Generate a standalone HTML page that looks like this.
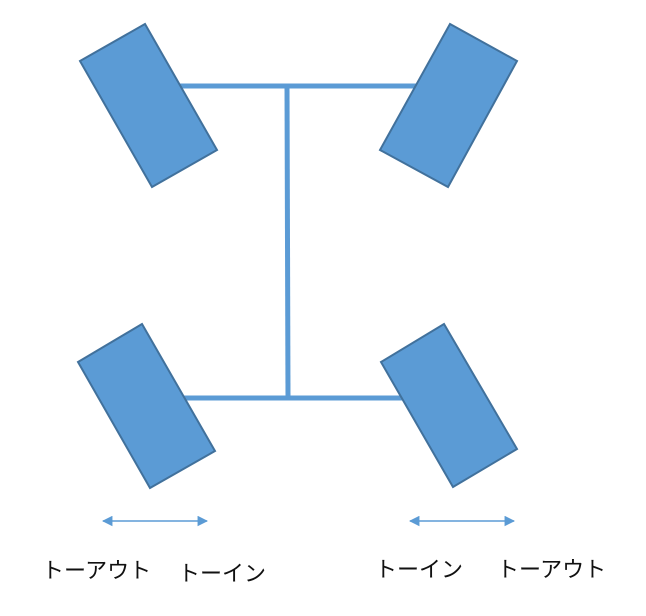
<!DOCTYPE html>
<html><head><meta charset="utf-8"><style>
html,body{margin:0;padding:0;background:#fff;}
svg{display:block}
text{font-family:"Liberation Sans","Noto Sans CJK JP",sans-serif;font-size:22px;fill:#111;}
</style></head><body>
<svg width="646" height="616" viewBox="0 0 646 616" xmlns="http://www.w3.org/2000/svg">
<defs>
<marker id="a" viewBox="0 0 10 10" refX="9" refY="5" markerWidth="7" markerHeight="7" orient="auto-start-reverse"><path d="M0,0L10,5L0,10z" fill="#5b9bd5"/></marker>
</defs>
<g stroke="#5b9bd5" stroke-width="5" fill="none">
<line x1="178" y1="86" x2="420" y2="86"/>
<line x1="287" y1="86" x2="288" y2="398"/>
<line x1="180" y1="398" x2="404" y2="398"/>
</g>
<g fill="#5b9bd5" stroke="#41719c" stroke-width="2">
<polygon points="80,61 145,24 217,150 152,187"/>
<polygon points="380,150 450,24 517,61 448,187"/>
<polygon points="78,362 142,324 215,451 150,488"/>
<polygon points="381,362 444,324 517,449 453,487"/>
</g>
<g stroke="#5b9bd5" stroke-width="1.5">
<line x1="103" y1="521" x2="207" y2="521" marker-start="url(#a)" marker-end="url(#a)"/>
<line x1="410" y1="521" x2="514" y2="521" marker-start="url(#a)" marker-end="url(#a)"/>
</g>
<text x="42" y="578">トーアウト</text>
<text x="178" y="581">トーイン</text>
<text x="375" y="577">トーイン</text>
<text x="497" y="577">トーアウト</text>
</svg>
</body></html>
